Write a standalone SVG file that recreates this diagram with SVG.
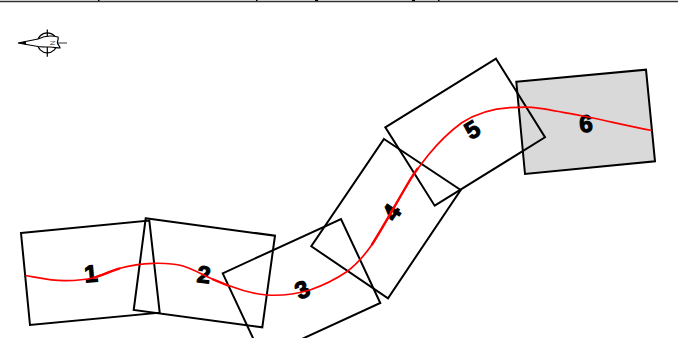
<svg xmlns="http://www.w3.org/2000/svg" width="678" height="338" viewBox="0 0 678 338">
<style>
.s{fill:none;stroke:#000;stroke-width:2}
.g{fill:#d9d9d9}
.r{fill:none;stroke:#f00;stroke-width:1.7}
.t{fill:none;stroke:#f00;stroke-width:2.4}
.n{font-family:"Liberation Sans",Arial,sans-serif;font-size:24px;font-weight:bold;fill:#000;text-anchor:middle;stroke:#000;stroke-width:1.1}
.c{fill:none;stroke:#000;stroke-width:1.2}
</style>
<rect width="678" height="338" fill="#fff"/>
<path d="M0 1.500H678" stroke="#333" stroke-width="1.400"/>
<g id="top-edge" fill="#000"><rect x="98" y="0" width="1.500" height="1"/><rect x="256" y="0" width="1.500" height="1"/><rect x="315" y="0" width="3" height="1"/><rect x="412" y="0" width="3" height="1"/><rect x="438" y="0" width="1.500" height="1"/></g>
<g id="compass">
<circle class="c" cx="47.300" cy="42.800" r="10"/>
<path class="c" d="M47.300 29.500V56.700"/>
<path d="M58 43H67" stroke="#555" stroke-width="1.200"/>
<path d="M18 43L38 39C42 37 46 36 50 36C53 36 55 36 58 37C59 39 57 41 57.500 43C58 45 60 46 60 48C57 48 54 47 50 47C46 47 42 47 38 46.500Z" fill="#fff" stroke="#000" stroke-width="1.200"/>
<path d="M18 43L26 41.300V44.500Z" fill="#000"/>
<text x="52.500" y="45" font-family="Liberation Sans" font-size="7" fill="#666" text-anchor="middle" transform="rotate(-90 52.500 43)">N</text>
</g>
<g id="sheet-6"><path class="s g" d="M516.300 81.700L646 69.700L655 161.300L525 174Z"/><text class="n" x="586" y="132" transform="rotate(-5 586 123)">6</text></g>
<g id="sheet-1"><path class="s" d="M21 233L149.300 220.500L159.700 312.700L30 325Z"/><text class="n" x="91" y="282" transform="rotate(-5 91 273)">1</text></g>
<g id="sheet-2"><path class="s" d="M145.700 218.300L275 235.700L262.300 327.300L133.700 310Z"/><text class="n" x="204" y="283" transform="rotate(7 204 274)">2</text></g>
<g id="sheet-3"><path class="s" d="M222.700 273.300L341 219L380.300 303L262 357.300Z"/><text class="n" x="302" y="298" transform="rotate(-25 302 289)">3</text></g>
<g id="sheet-4"><path class="s" d="M384 139L460.700 190L388 298.300L311.300 246.300Z"/><text class="n" x="391" y="221" transform="rotate(-56 391 212)">4</text></g>
<g id="sheet-5"><path class="s" d="M496 58.700L545 137.300L434.700 205.700L385.300 127.300Z"/><text class="n" x="472" y="138" transform="rotate(-32 472 129)">5</text></g>
<g id="connectors">
<path class="r" d="M25.500 275.500C40 278 52 281 65 280.700C76 280.500 85 280 93 278C103 275 111 271 120 268.300C131 265 142 263.500 153 263.300C164 263 174 263.500 183 266C193 269 201 274 210 278C217 281 223 283.500 230 286C243 291 255 294 266.700 295C282 296 296 294 310 290C324 285 336 279 346.700 271.700C356 265 364 256 371.700 245C385 224 398 200 410 180C416 171 422 163 428.300 155C438 143 449 132 461.700 122.700C478 112 498 107 520 107.300C527 107 534 107.500 540 108.300C558 111 575 114.500 593 118C612 122 631 126.500 652 130.500"/>
<path class="t" d="M93 278C103 275 111 271 120 268.300"/>
<path class="t" d="M212 279C218 281.500 223 283.500 229 286"/>
<path class="t" d="M371.700 245C385 224 398 200 410 180C413 175 415 172 418 168"/>
</g>
</svg>
